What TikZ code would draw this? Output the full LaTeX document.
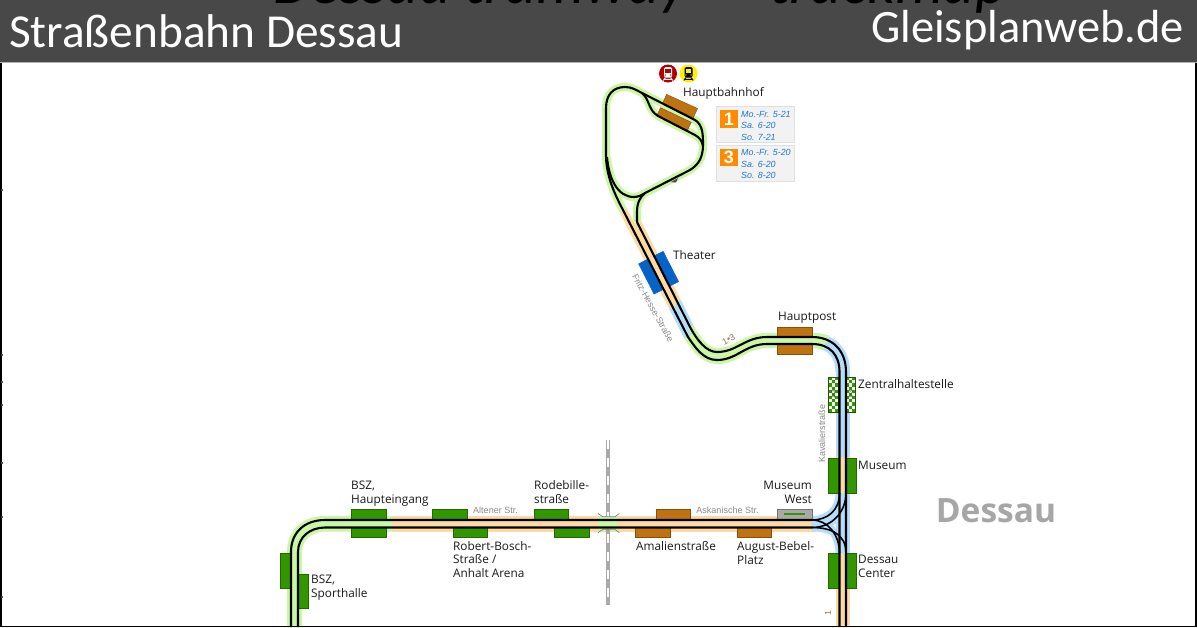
\documentclass[tikz,border=0pt]{standalone}
\usepackage{fontspec}
\setmainfont{Open Sans}
\newfontfamily\headfont{Carlito}
\newfontfamily\smallfont{Liberation Sans}
\definecolor{hdr}{HTML}{484848}
\definecolor{bgreen}{HTML}{C9F7A3}
\definecolor{borange}{HTML}{FDD9A3}
\definecolor{bblue}{HTML}{B5DDFB}
\definecolor{pbrown}{HTML}{BF7210}
\definecolor{pgreen}{HTML}{329600}
\definecolor{pblue}{HTML}{0562C6}
\definecolor{pgrey}{HTML}{A9A9A9}
\definecolor{infoblue}{HTML}{1F78D1}
\definecolor{note}{HTML}{8A8A8A}
\definecolor{markc}{HTML}{96785A}
\tikzset{
  band/.style={line width=8pt,line cap=butt,line join=round},
  ga/.style={band,draw=bgreen},
  oa/.style={band,draw=borange},
  ba/.style={band,draw=bblue},
  rail/.style={line width=2.1pt,draw=black,line cap=butt,line join=round},
  railthin/.style={rail,line width=1.6pt},
  plat/.style={line width=.4pt},
  pb/.style={plat,fill=pbrown,draw=pbrown!70!black},
  pg/.style={plat,fill=pgreen,draw=pgreen!70!black},
  pbl/.style={plat,fill=pblue,draw=pblue},
  lab/.style={anchor=base west,align=left,font=\fontsize{11.8}{13.6}\selectfont,text=black!90,inner sep=0pt},
  labr/.style={lab,anchor=base east,align=right},
  street/.style={font=\smallfont\fontsize{9}{10}\selectfont,text=note,inner sep=0pt},
  info/.style={anchor=base west,inner sep=0pt,text=infoblue,font=\smallfont\itshape\fontsize{8.9}{10}\selectfont},
  infobox/.style={fill=black!5,draw=black!12,line width=.6pt},
  numbox/.style={fill=orange!90!yellow,text=white,font=\smallfont\bfseries\fontsize{18}{18}\selectfont,inner sep=0pt,minimum size=17.5pt},
  tiny1/.style={inner sep=0pt,text=black!75,font=\smallfont\fontsize{5.5}{6}\selectfont,rotate=90},
}
\begin{document}
\begin{tikzpicture}[x=1pt,y=-1pt]
\useasboundingbox (0,0) rectangle (1197,627);
\fill[white] (0,0) rectangle (1197,627);
% bands
\begin{scope}
\clip (0,0) rectangle (1197,627);
\draw[ga] (291,627) -- (291,552) .. controls (291,532) and (305,520) .. (325,520) -- (392,520);
\draw[ga] (298,627) -- (298,552) .. controls (298,537) and (310,527.5) .. (325,527.5) -- (392,527.5);
\draw[oa] (392,520) -- (815,520);
\draw[oa] (392,527.5) -- (815,527.5);
\fill[bgreen] (598,516) rectangle (618,531);
% wye
\draw[ba] (812,520) .. controls (828,520) and (839.5,510) .. (839.5,493);
\draw[ba] (812,527.5) .. controls (832,527.5) and (846,512) .. (846,493);
\draw[ba] (812,520) .. controls (828,520) and (839.5,535) .. (839.5,553);
\draw[ba] (812,527.5) .. controls (832,527.5) and (846,535) .. (846,553);
\draw[oa] (839.5,627) -- (839.5,553);
\draw[oa] (846,627) -- (846,553);
\draw[ba] (839.5,553) -- (839.5,493);
\draw[ba] (846,553) -- (846,493);
\draw[oa] (839.5,493) -- (839.5,457);
\draw[oa] (846,493) -- (846,457);
\draw[ba] (839.5,457) -- (839.5,372);
\draw[ba] (846,457) -- (846,372);
\draw[ba] (839.5,372) .. controls (839.5,355) and (830,344) .. (812,344);
\draw[ba] (846,372) .. controls (846,350) and (832,337) .. (812,337);
% upper green section
\draw[ga] (825,345) .. controls (820,344.5) and (816,344) .. (812,344) -- (767,344) .. controls (745,344) and (737,360) .. (717,360) .. controls (703,360) and (695,347) .. (688,337);
\draw[ga] (828,339.5) .. controls (823,337.5) and (818,337) .. (812,337) -- (767,337) .. controls (745,337) and (737,352) .. (717,352) .. controls (706,352) and (697,340) .. (690,327);
\draw[ba] (672.7,307) -- (688,337);
\draw[ba] (677.4,302) -- (690,327);
\draw[oa] (623,210) -- (672.7,307);
\draw[oa] (637,222) -- (677.4,302);
% loop
\draw[ga] (623,210) .. controls (614,193) and (606,175) .. (606,155) -- (606,108) .. controls (606,95) and (613,87) .. (625,87) .. controls (632,87) and (636,90) .. (642,93) -- (695,120) .. controls (703,125) and (703,135) .. (703,145) .. controls (703,158) and (698,165) .. (690,170) -- (645,193) .. controls (640,197) and (637,203) .. (637,212) -- (637,222);
\draw[ga] (607,157) .. controls (609,180) and (618,197) .. (634,197) .. controls (638,197) and (642,195) .. (645,193);
\draw[ga] (642,93) .. controls (650,100) and (648,110) .. (658,116) -- (695,135) .. controls (700,138) and (702,141) .. (703,146);
\end{scope}
% platforms
\draw[pbl,rotate around={-63:(658.6,272.7)}] (641.6,258.9) rectangle (675.6,268.9);
\draw[pbl,rotate around={-63:(658.6,272.7)}] (641.6,276.5) rectangle (675.6,286.5);
\draw[pb,rotate around={-24.5:(680,106)}] (663,101) rectangle (697,111);
\draw[pb,rotate around={-25.5:(674,119)}] (657,114.5) rectangle (691,123.5);
\foreach \xa/\ya/\xb/\yb/\st in {
 777/327/812/337/pb, 777/344/812/354/pb,
 828/458/839.5/493/pg, 846/458/856/493/pg,
 828/553/839.5/588/pg, 846/553/856/588/pg,
 737/527.5/771/537/pb, 635/527.5/670/537/pb, 656/509/690/520/pb,
 534/509/568/520/pg, 554/527.5/589/537/pg,
 351/509/386/520/pg, 351/527.5/386/537/pg,
 432/509/467/520/pg, 453/527.5/487/537/pg,
 280/553/291/588/pg, 298/574/308/608/pg}
 {\draw[\st] (\xa,\ya) rectangle (\xb,\yb);}
\node[draw=black!55,fill=pgrey,line width=.4pt,minimum width=35pt,minimum height=10.5pt,inner sep=0pt] (mwest) at (794.5,514.2) {};
\fill[pgreen] (784,512.5) rectangle (805,514.5);
% checkered
\foreach \x in {828.3,846}{
  \fill[white] (\x,377) rectangle ++(9.6,35);
  \foreach \r in {0,...,10}{
    \foreach \c in {0,1,2}{
      \pgfmathtruncatemacro\pp{mod(\r+\c,2)}
      \ifnum\pp=0
        \fill[pgreen] (\x+\c*3.2,377+\r*3.18) rectangle ++(3.2,3.18);
      \fi
    }
  }
  \draw[pgreen!60!black,line width=.4pt] (\x,377) rectangle ++(9.6,35);
}
\node[tiny1] (z1) at (833.1,394.5) {1•3};
\node[tiny1] (z2) at (850.8,394.5) {1•3};
% crossing
\draw[line width=4.6pt,draw=pgrey] (608,440) -- (608,516.7);
\draw[line width=4.6pt,draw=pgrey] (608,529.3) -- (608,605);
\draw[line width=1.8pt,draw=white,dash pattern=on 9pt off 9pt] (608,440) -- (608,516.7);
\draw[line width=1.8pt,draw=white,dash pattern=on 9pt off 9pt] (608,534) -- (608,605);
\draw[line width=.7pt,draw=black!50] (598,513.5) -- (602.7,516.7) -- (615,516.7) -- (619.3,513.5);
\draw[line width=.7pt,draw=black!50] (598,532.7) -- (602.7,529.3) -- (615,529.3) -- (619.3,532.7);
% tracks
\begin{scope}
\clip (0,0) rectangle (1197,627);
\draw[rail] (291,627) -- (291,552) .. controls (291,532) and (305,520) .. (325,520) -- (812,520);
\draw[rail] (298,627) -- (298,552) .. controls (298,537) and (310,527.5) .. (325,527.5) -- (812,527.5);
\draw[railthin] (812,520) .. controls (828,520) and (839.5,510) .. (839.5,493);
\draw[railthin] (812,527.5) .. controls (832,527.5) and (846,512) .. (846,493);
\draw[railthin] (812,520) .. controls (828,520) and (839.5,535) .. (839.5,553);
\draw[railthin] (812,527.5) .. controls (832,527.5) and (846,535) .. (846,553);
\draw[rail] (839.5,627) -- (839.5,372) .. controls (839.5,355) and (830,344) .. (812,344) -- (767,344) .. controls (745,344) and (737,360) .. (717,360) .. controls (703,360) and (695,347) .. (688,337) -- (623,210) .. controls (614,193) and (606,175) .. (606,155) -- (606,108) .. controls (606,95) and (613,87) .. (625,87) .. controls (632,87) and (636,90) .. (642,93) -- (695,120) .. controls (703,125) and (703,135) .. (703,145) .. controls (703,158) and (698,165) .. (690,170) -- (645,193) .. controls (640,197) and (637,203) .. (637,212) -- (637,222);
\draw[rail] (846,627) -- (846,372) .. controls (846,350) and (832,337) .. (812,337) -- (767,337) .. controls (745,337) and (737,352) .. (717,352) .. controls (706,352) and (697,340) .. (690,327) -- (637,222);
\draw[rail] (607,157) .. controls (609,180) and (618,197) .. (634,197) .. controls (638,197) and (642,195) .. (645,193);
\draw[rail] (642,93) .. controls (650,100) and (648,110) .. (658,116) -- (695,135) .. controls (700,138) and (702,141) .. (703,146);
\end{scope}
\fill[black!70] (671,182) -- (678,178) -- (676,182.5) -- cycle;
% header
\fill[hdr] (0,0) rectangle (1197,62);
\fill[black!30] (0,61.5) rectangle (1197,63);
\begin{scope}
\clip (0,0) rectangle (1197,62);
\node[anchor=base,inner sep=0pt,text=black,font=\headfont\itshape\fontsize{61}{61}\selectfont] (ttl) at (640,3) {Dessau tramway — trackmap};
\end{scope}
\node[anchor=base west,inner sep=0pt,text=white,font=\headfont\fontsize{47.3}{47}\selectfont] (hl) at (9,47) {Straßenbahn Dessau};
\node[anchor=base east,inner sep=0pt,text=white,font=\headfont\fontsize{46.4}{46}\selectfont] (hr) at (1184,42) {Gleisplanweb.de};
% frame
\draw[black,line width=1.2pt] (1,63) -- (1,626.4) -- (1196,626.4) -- (1196,63);
\foreach \ty in {190,355,381.6,405,463,516.7,596.7}{\fill[black!70] (1,\ty-1) rectangle (2.6,\ty+1);}
% labels (node base is the last line)
\node[lab] (l1) at (683,96) {Hauptbahnhof};
\node[lab] (l2) at (673,259) {Theater};
\node[lab] (l3) at (778,320) {Hauptpost};
\node[lab] (l4) at (858,388) {Zentralhaltestelle};
\node[lab] (l5) at (858,469) {Museum};
\node[labr] (l6) at (812,503) {Museum\\West};
\node[lab] (l7) at (858,577.5) {Dessau\\Center};
\node[lab] (l8) at (351,503) {BSZ,\\Haupteingang};
\node[lab] (l9) at (534,503) {Rodebille-\\straße};
\node[lab] (l10) at (453,577.5) {Robert-Bosch-\\Straße /\\Anhalt Arena};
\node[lab] (l11) at (636,550.5) {Amalienstraße};
\node[lab] (l12) at (737,564) {August-Bebel-\\Platz};
\node[lab] (l13) at (311,597) {BSZ,\\Sporthalle};
\node[street] (s1) at (495.5,510.5) {Altener Str.};
\node[street] (s2) at (727.5,510) {Askanische Str.};
\node[street,rotate=-61] (s3) at (653,308) {Fritz-Hesse-Straße};
\node[street,rotate=90] (s4) at (822,433.5) {Kavalierstraße};
\node[street,text=markc,rotate=27] (s5) at (728.5,339.5) {1•3};
\node[street,text=markc,rotate=90] (s6) at (828,613) {1};
\node[inner sep=0pt,text=black!35,font=\bfseries\fontsize{33.5}{34}\selectfont] (dess) at (996,511) {Dessau};
% info
\draw[infobox] (716.7,106.7) rectangle (794.5,142.3);
\draw[infobox] (716.7,145.3) rectangle (794.5,181.7);
\node[numbox] (n1) at (728.8,119) {1};
\node[numbox] (n3) at (728.8,157.5) {3};
\node[info] (a1) at (741,117) {Mo.-Fr. 5-21};
\node[info] (a2) at (741,128.5) {Sa. 6-20};
\node[info] (a3) at (741,140) {So. 7-21};
\node[info] (b1) at (741,155.5) {Mo.-Fr. 5-20};
\node[info] (b2) at (741,167) {Sa. 6-20};
\node[info] (b3) at (741,178.5) {So. 8-20};
% icons
\fill[red!70!black] (668,73.5) circle (9);
\fill[yellow] (688.5,73.5) circle (9);
\foreach \cx/\fg/\bg in {668/white/red!70!black,688.5/black/yellow}{
  \fill[\fg,rounded corners=1.5pt] (\cx-4,67) rectangle (\cx+4,77.5);
  \fill[\bg] (\cx-2.8,69.3) rectangle (\cx+2.8,73);
  \fill[\bg] (\cx-2.6,75) circle (.7) (\cx+2.6,75) circle (.7);
  \draw[\fg,line width=.9pt] (\cx-4.6,80.5) -- (\cx-2.8,77.5) (\cx+4.6,80.5) -- (\cx+2.8,77.5) (\cx-3.8,79.3) -- (\cx+3.8,79.3);
}
\end{tikzpicture}
\end{document}
